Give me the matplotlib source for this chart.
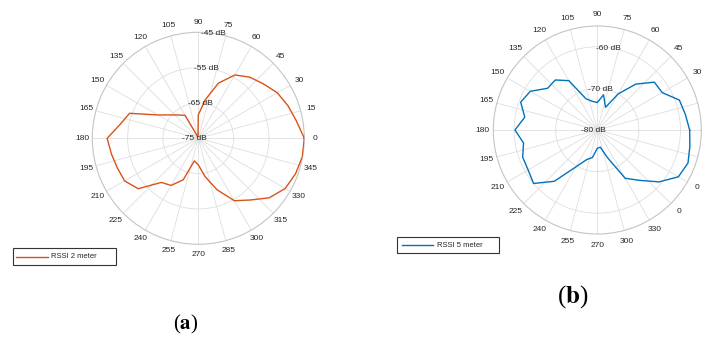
import numpy as np
import matplotlib
matplotlib.use("Agg")
import matplotlib.pyplot as plt
from matplotlib.patches import Rectangle
from matplotlib.lines import Line2D

plt.rcParams['font.family'] = ['Liberation Sans', 'DejaVu Sans']
plt.rcParams['mathtext.fontset'] = 'stix'

W, H = 705, 341

# measurement angles (deg) and received power (dBm) at each angle
angles_deg = np.arange(0, 360, 10)
rssi_2m = [-45.0, -46.8, -48.0, -49.2, -51.0, -52.4, -54.3, -58.4, -64.0, -68.4,
           -74.5, -74.5, -67.5, -66.4, -64.7, -61.8, -54.3, -52.5, -49.2, -50.0,
           -50.6, -50.9, -52.8, -58.7, -59.6, -62.5, -68.5, -67.5, -64.0, -59.5,
           -54.6, -52.2, -48.8, -46.6, -45.7, -45.1]
rssi_5m = [-57.8, -58.5, -59.0, -62.0, -62.1, -65.6, -70.0, -74.2, -71.4, -73.4,
           -73.0, -72.0, -66.3, -64.3, -64.4, -61.4, -60.4, -62.3, -60.2, -62.0,
           -60.9, -60.8, -60.0, -63.9, -69.8, -72.4, -73.3, -75.6, -75.8, -73.0,
           -66.6, -64.2, -60.6, -57.5, -56.8, -57.4]

tick_deg = np.arange(0, 360, 15)
labels_2m = [str(a) for a in tick_deg]
labels_5m = ['0', '15', '30', '45', '60', '75', '90', '105', '120', '135', '150',
             '165', '180', '195', '210', '225', '240', '255', '270', '300', '330',
             '0', '0', '15']

rlim_2m = (-75, -45)
rticks_2m = [-75, -65, -55, -45]
rlim_5m = (-80, -55)
rticks_5m = [-80, -70, -60]


def px_rect(cx, cy, r):
    # axes rect from a centre/radius given in pixels (origin top-left)
    return [(cx - r) / W, (H - cy - r) / H, 2 * r / W, 2 * r / H]


def polar_panel(fig, rect, values, color, rlim, rticks, tlabels, pad):
    ax = fig.add_axes(rect, projection='polar')
    th = np.deg2rad(np.append(angles_deg, angles_deg[0]))
    v = np.append(values, values[0])
    ax.plot(th, v, color=color, lw=1.0, zorder=3)
    ax.set_ylim(*rlim)
    ax.set_thetagrids(tick_deg, tlabels, fontsize=6, color='#262626')
    ax.set_yticks([t for t in rticks if rlim[0] < t < rlim[1]])
    ax.set_yticklabels([])
    ax.set_axisbelow(True)
    ax.grid(True, color='#dedede', lw=0.6)
    ax.spines['polar'].set_color('#c4c4c4')
    ax.spines['polar'].set_linewidth(0.8)
    ax.tick_params(axis='x', pad=pad, length=0)
    for t in rticks:
        ax.annotate(f'{t} dB', xy=(np.deg2rad(80), t), xytext=(-3.6, 0),
                    textcoords='offset pixels', ha='center', va='center',
                    fontsize=6, color='#262626', annotation_clip=False, zorder=4)
    return ax


def draw_key(fig, box, seg, text_x, label, color):
    x0, y0, x1, y1 = box
    fig.add_artist(Rectangle((x0 / W, 1 - y1 / H), (x1 - x0) / W, (y1 - y0) / H,
                             transform=fig.transFigure, fill=False,
                             ec='#333333', lw=0.8))
    ym = 1 - (y0 + y1) / 2 / H
    fig.add_artist(Line2D([seg[0] / W, seg[1] / W], [ym, ym],
                          transform=fig.transFigure, color=color, lw=1.0))
    fig.text(text_x / W, ym, label, fontsize=5.5, va='center', ha='left',
             color='#262626')


fig = plt.figure(figsize=(W / 100, H / 100), dpi=100)
fig.patch.set_facecolor('white')

polar_panel(fig, px_rect(198.3, 138.3, 106), rssi_2m, '#D95319',
            rlim_2m, rticks_2m, labels_2m, pad=0.4)
polar_panel(fig, px_rect(597.3, 130, 104), rssi_5m, '#0072BD',
            rlim_5m, rticks_5m, labels_5m, pad=1.1)

draw_key(fig, (12.7, 248.3, 116, 265), (16, 48.3), 51, 'RSSI 2 meter', '#D95319')
draw_key(fig, (397.3, 237.3, 499, 253.3), (401.7, 433.3), 437.3, 'RSSI 5 meter', '#0072BD')

fig.text(186 / W, 1 - 324 / H, r'($\mathbf{a}$)', fontsize=15, ha='center',
         va='center', family='Liberation Serif')
fig.text(572.5 / W, 1 - 297 / H, r'($\mathbf{b}$)', fontsize=18, ha='center',
         va='center', family='Liberation Serif')

fig.savefig('out.png', dpi=100, facecolor='white')
